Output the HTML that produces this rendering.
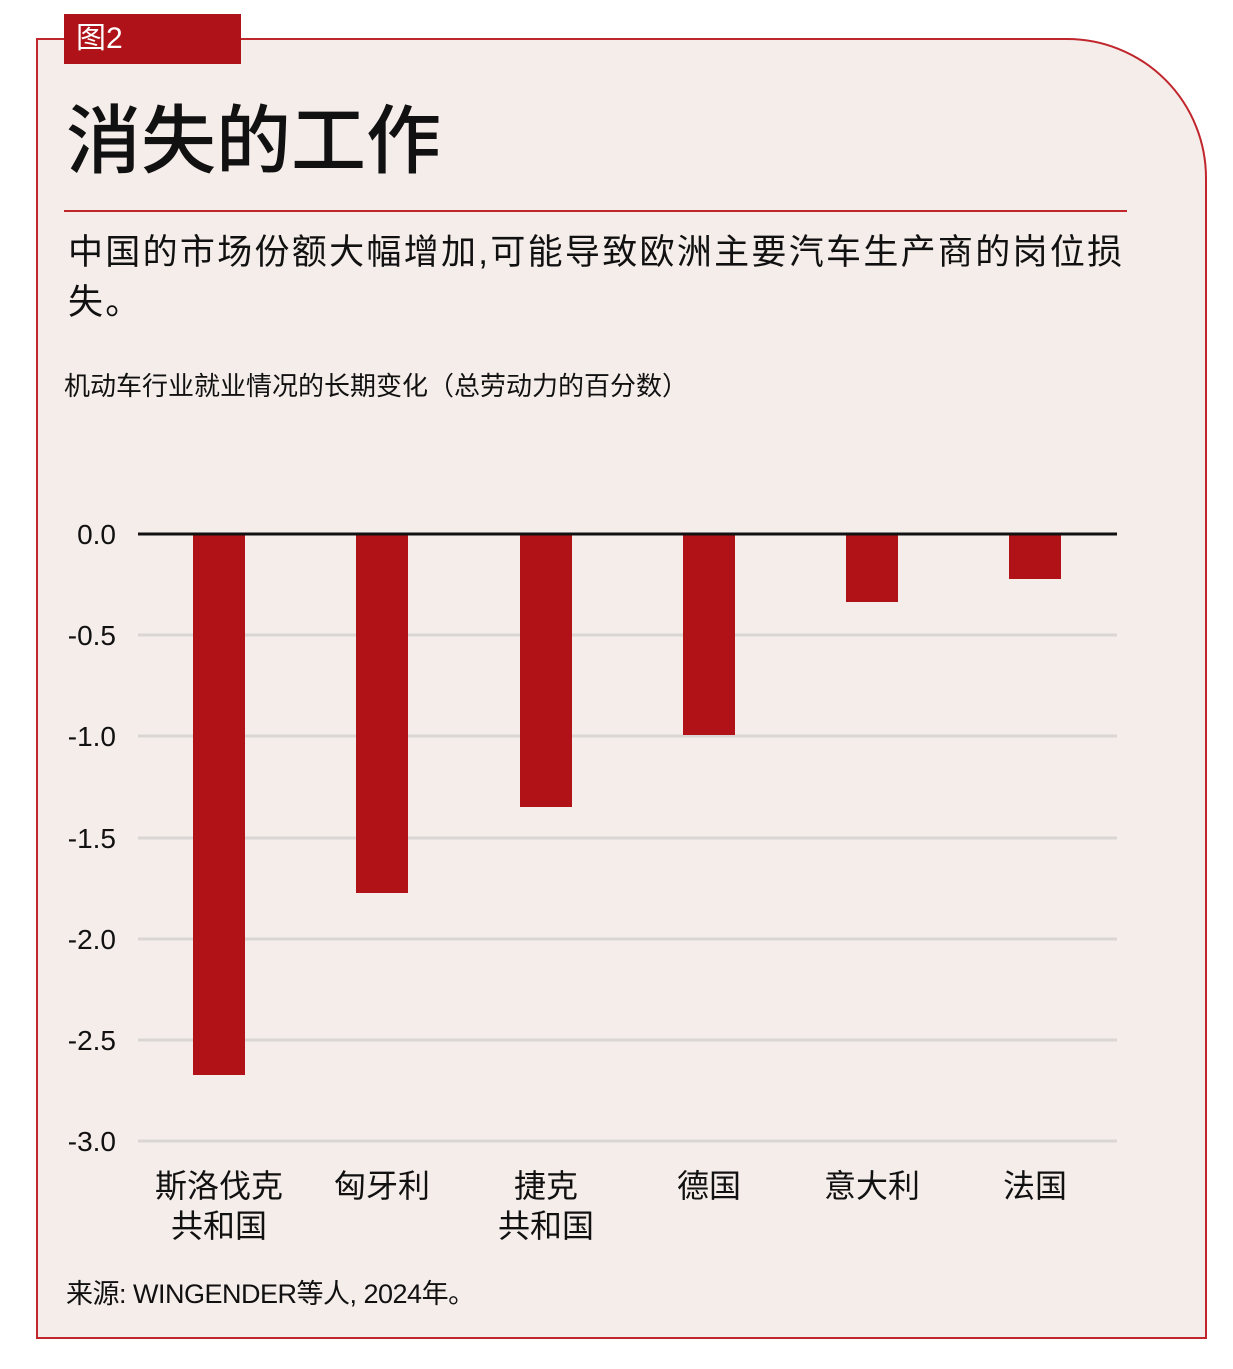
<!DOCTYPE html>
<html><head><meta charset="utf-8"><style>
body{margin:0;width:1233px;height:1369px;background:#fff;position:relative;overflow:hidden;font-family:"Liberation Sans","Noto Sans CJK SC",sans-serif;}
.box{position:absolute;left:36px;top:38px;width:1167px;height:1297px;border:2px solid #c0272d;border-top-right-radius:140px;background:#f5edea;}
.tab{position:absolute;left:64px;top:14px;width:177px;height:50px;background:#af1218;color:#fff;font-size:30px;line-height:50px;padding-left:12px;box-sizing:border-box;}
.t{position:absolute;white-space:nowrap;color:#111;}
</style></head><body>
<div class="box"></div>
<div class="tab">图2</div>
<div class="t" style="left:66px;top:96px;font-size:75px;font-weight:500;line-height:90px;">消失的工作</div>
<div style="position:absolute;left:64px;top:210px;width:1063px;height:2px;background:#c0272d"></div>
<div class="t" style="left:68px;top:228px;font-size:35px;line-height:50px;letter-spacing:2.3px;">中国的市场份额大幅增加,可能导致欧洲主要汽车生产商的岗位损<br>失。</div>
<div class="t" style="left:64px;top:368px;font-size:26px;line-height:36px;">机动车行业就业情况的长期变化（总劳动力的百分数）</div>
<svg style="position:absolute;left:0;top:0" width="1233" height="1369">
<g stroke="#d9d6d4" stroke-width="3">
<line x1="138" x2="1117" y1="635" y2="635"/><line x1="138" x2="1117" y1="736" y2="736"/>
<line x1="138" x2="1117" y1="838" y2="838"/><line x1="138" x2="1117" y1="939" y2="939"/>
<line x1="138" x2="1117" y1="1040" y2="1040"/><line x1="138" x2="1117" y1="1141" y2="1141"/>
</g>
<g fill="#b01218">
<rect x="193" y="534" width="52" height="541"/>
<rect x="356" y="534" width="52" height="359"/>
<rect x="520" y="534" width="52" height="273"/>
<rect x="683" y="534" width="52" height="201"/>
<rect x="846" y="534" width="52" height="68"/>
<rect x="1009" y="534" width="52" height="45"/>
</g>
<line x1="138" x2="1117" y1="534" y2="534" stroke="#111" stroke-width="3"/>
<g font-family="Liberation Sans, sans-serif" font-size="28" fill="#111" text-anchor="end">
<text x="116" y="544">0.0</text><text x="116" y="645">-0.5</text><text x="116" y="746">-1.0</text>
<text x="116" y="848">-1.5</text><text x="116" y="949">-2.0</text><text x="116" y="1050">-2.5</text><text x="116" y="1151">-3.0</text>
</g>
<g font-family="Liberation Sans, Noto Sans CJK SC, sans-serif" font-size="32" fill="#111" text-anchor="middle">
<text x="219" y="1197">斯洛伐克</text><text x="219" y="1237">共和国</text>
<text x="382" y="1197">匈牙利</text>
<text x="546" y="1197">捷克</text><text x="546" y="1237">共和国</text>
<text x="709" y="1197">德国</text>
<text x="872" y="1197">意大利</text>
<text x="1035" y="1197">法国</text>
</g>
</svg>
<div class="t" style="left:66px;top:1276px;font-size:27px;line-height:36px;letter-spacing:-0.5px;">来源: WINGENDER等人, 2024年。</div>
</body></html>
